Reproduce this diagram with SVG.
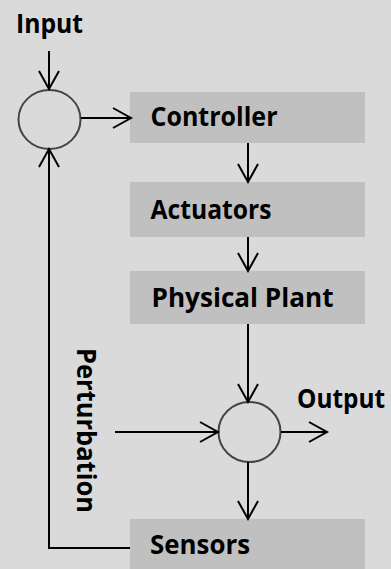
<svg xmlns="http://www.w3.org/2000/svg" width="391" height="569" viewBox="0 0 391 569">
  <defs>
    <style>
      .box { fill: #c0c0c0; }
      .junction { fill: none; stroke: #444444; stroke-width: 2; }
      .label { font-family: "Open Sans", "Noto Sans", "Liberation Sans", sans-serif; font-weight: 700; font-size: 27px; fill: #000000; }
      .link { fill: none; stroke: #000000; stroke-width: 2; }
    </style>
    <marker id="open-arrow" markerUnits="userSpaceOnUse" markerWidth="24" markerHeight="24" viewBox="-20 -12 22 24" refX="0" refY="0" orient="auto" overflow="visible">
      <path d="M -18 -10 L 0 0 L -18 10" fill="none" stroke="#000000" stroke-width="2"/>
    </marker>
  </defs>

  <!-- canvas -->
  <rect x="0" y="0" width="391" height="569" fill="#dadada"/>

  <!-- nodes -->
  <g id="input-label">
    <text class="label" x="16" y="32.5" textLength="67" lengthAdjust="spacingAndGlyphs">Input</text>
  </g>

  <g id="sum-junction">
    <ellipse class="junction" cx="49.5" cy="119.5" rx="31" ry="29.5"/>
  </g>

  <g id="controller">
    <rect class="box" x="130" y="92" width="235" height="51"/>
    <text class="label" x="150.5" y="126" textLength="127" lengthAdjust="spacingAndGlyphs">Controller</text>
  </g>

  <g id="actuators">
    <rect class="box" x="130" y="182" width="235" height="55"/>
    <text class="label" x="150.5" y="218.5" textLength="121" lengthAdjust="spacingAndGlyphs">Actuators</text>
  </g>

  <g id="physical-plant">
    <rect class="box" x="130" y="271" width="235" height="53"/>
    <text class="label" x="151.5" y="306.5" textLength="182" lengthAdjust="spacingAndGlyphs">Physical Plant</text>
  </g>

  <g id="output-junction">
    <ellipse class="junction" cx="249.5" cy="432" rx="31" ry="30"/>
  </g>

  <g id="output-label">
    <text class="label" x="297" y="407.5" textLength="88" lengthAdjust="spacingAndGlyphs">Output</text>
  </g>

  <g id="perturbation-label">
    <text class="label" transform="translate(77 348) rotate(90)" x="0" y="0" textLength="165" lengthAdjust="spacingAndGlyphs">Perturbation</text>
  </g>

  <g id="sensors">
    <rect class="box" x="130" y="519" width="235" height="60"/>
    <text class="label" x="150" y="554" textLength="100" lengthAdjust="spacingAndGlyphs">Sensors</text>
  </g>

  <!-- connectors -->
  <g id="connectors">
    <line class="link" x1="49" y1="51" x2="49" y2="89" marker-end="url(#open-arrow)"/>
    <line class="link" x1="81" y1="118" x2="131" y2="118" marker-end="url(#open-arrow)"/>
    <line class="link" x1="248" y1="143" x2="248" y2="182" marker-end="url(#open-arrow)"/>
    <line class="link" x1="248" y1="237" x2="248" y2="271" marker-end="url(#open-arrow)"/>
    <line class="link" x1="248" y1="324" x2="248" y2="402" marker-end="url(#open-arrow)"/>
    <line class="link" x1="115" y1="432" x2="218" y2="432" marker-end="url(#open-arrow)"/>
    <line class="link" x1="281" y1="432" x2="327" y2="432" marker-end="url(#open-arrow)"/>
    <line class="link" x1="248" y1="462" x2="248" y2="519" marker-end="url(#open-arrow)"/>
    <polyline class="link" points="130,548 49,548 49,149" marker-end="url(#open-arrow)"/>
  </g>
</svg>
